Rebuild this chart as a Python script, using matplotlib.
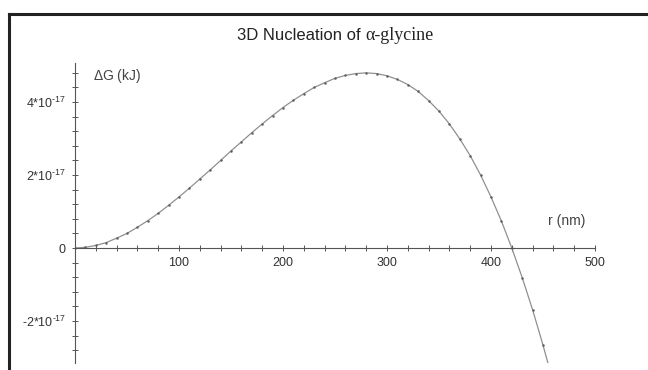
import matplotlib
matplotlib.use("Agg")
import matplotlib.pyplot as plt
from matplotlib.ticker import MultipleLocator, FixedLocator, FixedFormatter
from matplotlib.lines import Line2D

plt.rcParams['font.family'] = ['Liberation Sans', 'DejaVu Sans']
plt.rcParams['mathtext.fontset'] = 'custom'
plt.rcParams['mathtext.rm'] = 'Liberation Sans'

# radius (nm) and free energy change in units of 1e-17 kJ
r_nm = [0, 10, 20, 30, 40, 50, 60, 70, 80, 90,
        100, 110, 120, 130, 140, 150, 160, 170, 180, 190,
        200, 210, 220, 230, 240, 250, 260, 270, 280, 290,
        300, 310, 320, 330, 340, 350, 360, 370, 380, 390,
        400, 410, 420, 430, 440, 450, 460]
dG = [0.0, 0.02, 0.07, 0.15, 0.27, 0.40, 0.57, 0.75, 0.95, 1.17,
      1.40, 1.64, 1.89, 2.14, 2.40, 2.66, 2.91, 3.16, 3.40, 3.63,
      3.85, 4.05, 4.23, 4.40, 4.53, 4.65, 4.73, 4.78, 4.80, 4.78,
      4.72, 4.62, 4.48, 4.29, 4.04, 3.75, 3.40, 2.99, 2.53, 2.00,
      1.40, 0.74, 0.0, -0.81, -1.69, -2.66, -3.70]

ytick_vals = [-2, 0, 2, 4]
ytick_text = [r'$\mathregular{\text{-}2{*}10^{\text{-}17}}$', '0',
              r'$\mathregular{2{*}10^{\text{-}17}}$',
              r'$\mathregular{4{*}10^{\text{-}17}}$']
xtick_vals = [100, 200, 300, 400, 500]

fig = plt.figure(figsize=(6.48, 3.70), dpi=100)
ax = fig.add_axes([75/648, 7/370, 520/648, 300/370])

ax.plot(r_nm, dG, color='#909090', lw=0.9, marker='.', ms=1.6,
        mfc='#606060', mec='#606060', clip_on=True)

ax.set_xlim(0, 500)
ax.set_ylim(-3.15, 5.07)

for s in ['top', 'right']:
    ax.spines[s].set_visible(False)
ax.spines['left'].set_position(('data', 0))
ax.spines['bottom'].set_position(('data', 0))
for s in ['left', 'bottom']:
    ax.spines[s].set_color('#555555')
    ax.spines[s].set_linewidth(0.8)

ax.xaxis.set_major_locator(FixedLocator(xtick_vals))
ax.xaxis.set_minor_locator(MultipleLocator(20))
ax.yaxis.set_major_locator(FixedLocator(ytick_vals))
ax.yaxis.set_major_formatter(FixedFormatter(ytick_text))
ax.yaxis.set_minor_locator(MultipleLocator(0.4))
ax.tick_params(which='both', direction='inout', color='#555555', width=0.7,
               labelsize=9, labelcolor='#333333')
ax.tick_params(which='major', length=5, pad=4)
ax.tick_params(which='minor', length=4)

fig.text(93/648, 1 - 76/370, r'$\mathregular{\Delta}$G (kJ)', fontsize=10,
         color='#444444', va='center', ha='left')
fig.text(548/648, 1 - 221/370, 'r (nm)', fontsize=10, color='#444444',
         va='center', ha='left')

# title: sans part + serif part
fig.text(365/648, 1 - 35/370, '3D Nucleation of ', fontsize=12,
         ha='right', va='center', color='#222222')
fig.text(365/648, 1 - 35/370, '\u03b1-glycine', fontsize=13,
         ha='left', va='center', color='#222222',
         family=['Liberation Serif', 'DejaVu Serif'])

# frame lines (left and top)
fig.add_artist(Line2D([8.5/648, 8.5/648], [0, 1 - 13.5/370],
                      transform=fig.transFigure, color='#222222', lw=2.2))
fig.add_artist(Line2D([8.5/648, 1], [1 - 13.5/370, 1 - 13.5/370],
                      transform=fig.transFigure, color='#222222', lw=2.2))

fig.savefig('out.png', dpi=100)
